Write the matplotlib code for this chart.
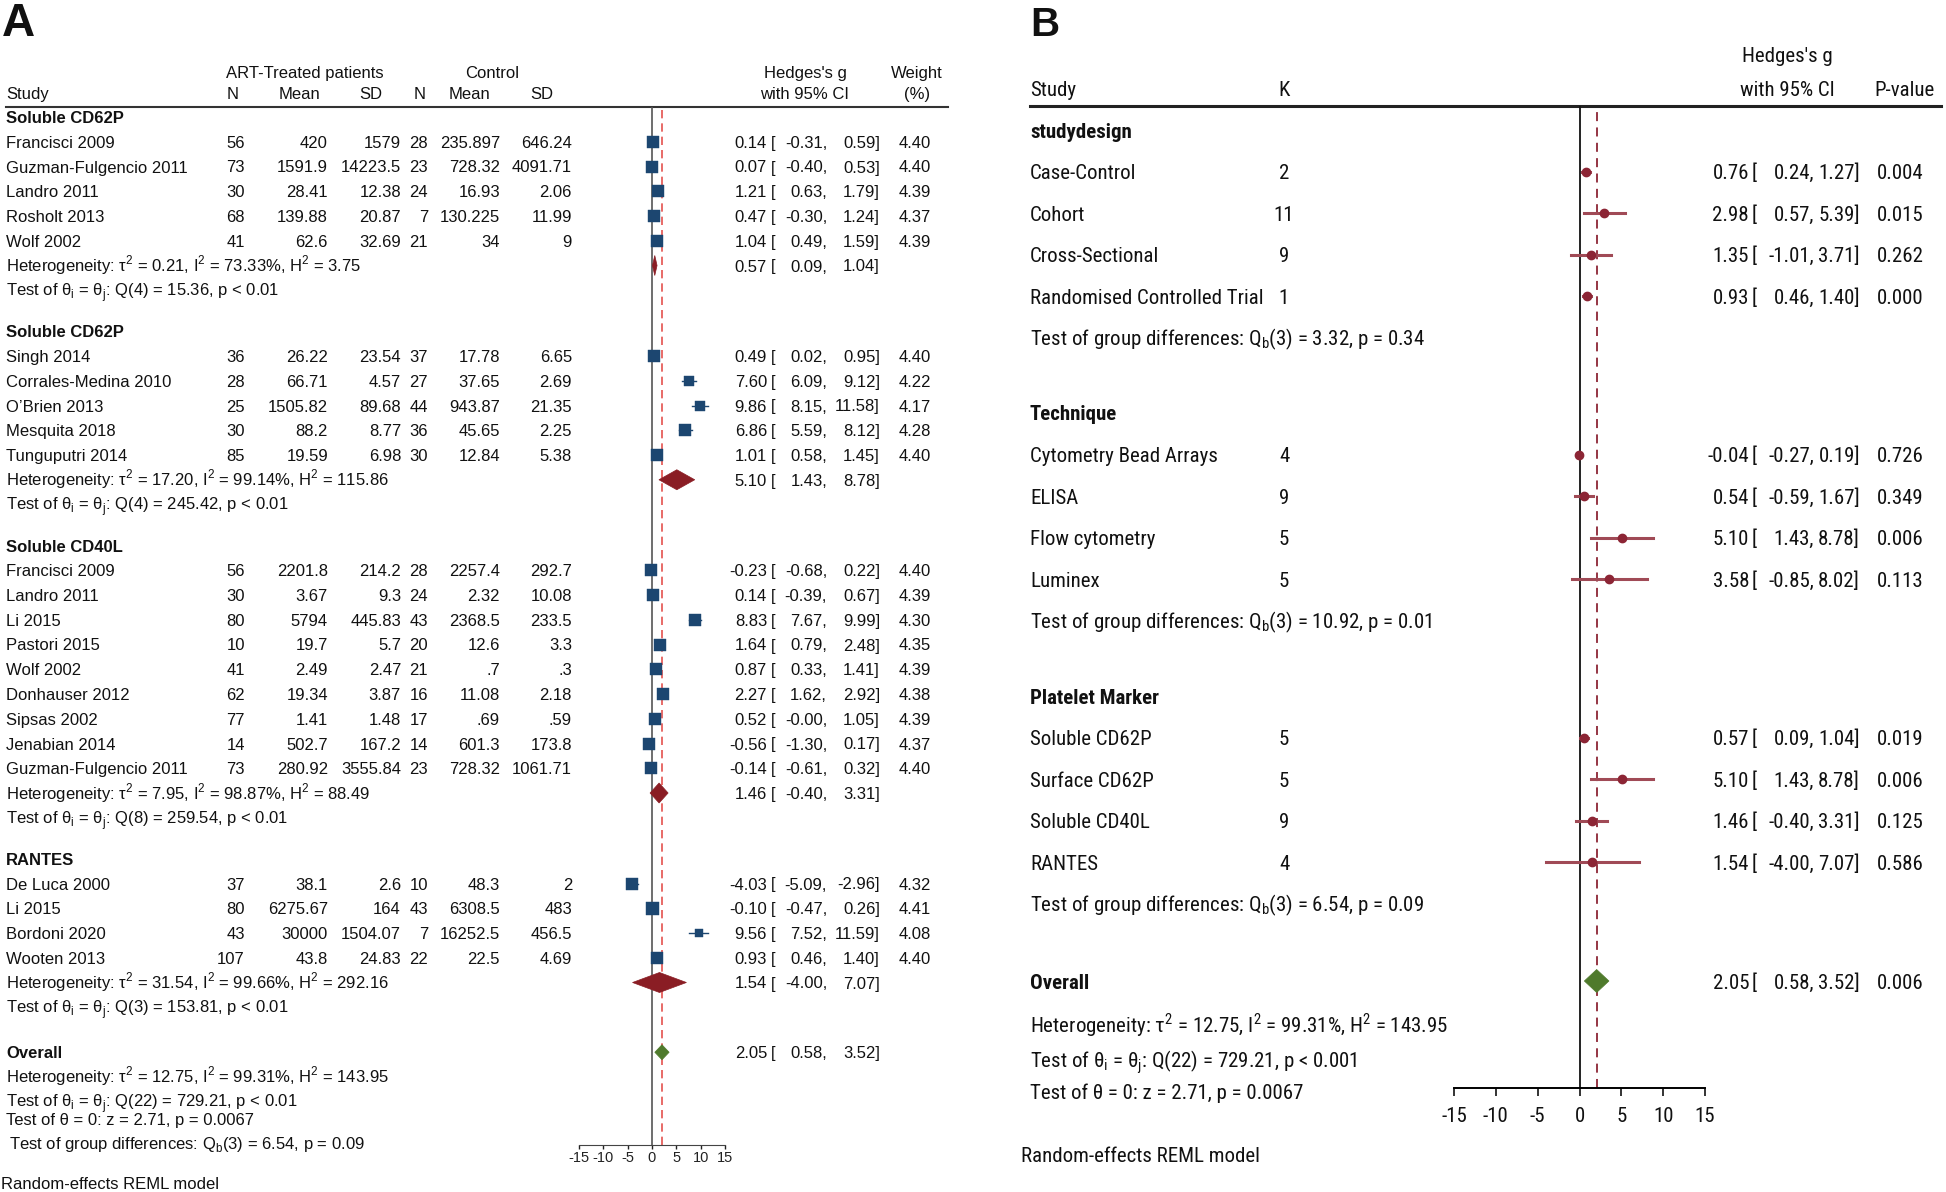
import matplotlib.pyplot as plt
from matplotlib.patches import Polygon

W, H = 1946, 1192
plt.rcParams['font.family'] = ['Liberation Sans', 'DejaVu Sans']
plt.rcParams['axes.unicode_minus'] = False
# panel B uses a narrow face
NB = ['Roboto Condensed', 'Liberation Sans Narrow', 'Liberation Sans']

# ---------------- panel A data ----------------
a_groups = ["Soluble CD62P", "Soluble CD62P", "Soluble CD40L", "RANTES"]
a_group_n = [5, 5, 9, 4]
a_study = ["Francisci 2009", "Guzman-Fulgencio 2011", "Landro 2011", "Rosholt 2013", "Wolf 2002",
           "Singh 2014", "Corrales-Medina 2010", "O\u2019Brien 2013", "Mesquita 2018", "Tunguputri 2014",
           "Francisci 2009", "Landro 2011", "Li 2015", "Pastori 2015", "Wolf 2002", "Donhauser 2012",
           "Sipsas 2002", "Jenabian 2014", "Guzman-Fulgencio 2011",
           "De Luca 2000", "Li 2015", "Bordoni 2020", "Wooten 2013"]
a_n1 = ["56", "73", "30", "68", "41", "36", "28", "25", "30", "85",
        "56", "30", "80", "10", "41", "62", "77", "14", "73", "37", "80", "43", "107"]
a_m1 = ["420", "1591.9", "28.41", "139.88", "62.6", "26.22", "66.71", "1505.82", "88.2", "19.59",
        "2201.8", "3.67", "5794", "19.7", "2.49", "19.34", "1.41", "502.7", "280.92",
        "38.1", "6275.67", "30000", "43.8"]
a_s1 = ["1579", "14223.5", "12.38", "20.87", "32.69", "23.54", "4.57", "89.68", "8.77", "6.98",
        "214.2", "9.3", "445.83", "5.7", "2.47", "3.87", "1.48", "167.2", "3555.84",
        "2.6", "164", "1504.07", "24.83"]
a_n2 = ["28", "23", "24", "7", "21", "37", "27", "44", "36", "30",
        "28", "24", "43", "20", "21", "16", "17", "14", "23", "10", "43", "7", "22"]
a_m2 = ["235.897", "728.32", "16.93", "130.225", "34", "17.78", "37.65", "943.87", "45.65", "12.84",
        "2257.4", "2.32", "2368.5", "12.6", ".7", "11.08", ".69", "601.3", "728.32",
        "48.3", "6308.5", "16252.5", "22.5"]
a_s2 = ["646.24", "4091.71", "2.06", "11.99", "9", "6.65", "2.69", "21.35", "2.25", "5.38",
        "292.7", "10.08", "233.5", "3.3", ".3", "2.18", ".59", "173.8", "1061.71",
        "2", "483", "456.5", "4.69"]
a_g = [0.14, 0.07, 1.21, 0.47, 1.04, 0.49, 7.60, 9.86, 6.86, 1.01,
       -0.23, 0.14, 8.83, 1.64, 0.87, 2.27, 0.52, -0.56, -0.14, -4.03, -0.10, 9.56, 0.93]
a_lo = [-0.31, -0.40, 0.63, -0.30, 0.49, 0.02, 6.09, 8.15, 5.59, 0.58,
        -0.68, -0.39, 7.67, 0.79, 0.33, 1.62, -0.00, -1.30, -0.61, -5.09, -0.47, 7.52, 0.46]
a_hi = [0.59, 0.53, 1.79, 1.24, 1.59, 0.95, 9.12, 11.58, 8.12, 1.45,
        0.22, 0.67, 9.99, 2.48, 1.41, 2.92, 1.05, 0.17, 0.32, -2.96, 0.26, 11.59, 1.40]
a_wt = [4.40, 4.40, 4.39, 4.37, 4.39, 4.40, 4.22, 4.17, 4.28, 4.40,
        4.40, 4.39, 4.30, 4.35, 4.39, 4.38, 4.39, 4.37, 4.40, 4.32, 4.41, 4.08, 4.40]

# subgroup pooled estimates and statistics
a_pg = [0.57, 5.10, 1.46, 1.54]
a_plo = [0.09, 1.43, -0.40, -4.00]
a_phi = [1.04, 8.78, 3.31, 7.07]
a_tau2 = ["0.21", "17.20", "7.95", "31.54"]
a_i2 = ["73.33", "99.14", "98.87", "99.66"]
a_h2 = ["3.75", "115.86", "88.49", "292.16"]
a_qdf = ["4", "4", "8", "3"]
a_q = ["15.36", "245.42", "259.54", "153.81"]

overall = [2.05, 0.58, 3.52]
ov_tau2, ov_i2, ov_h2 = "12.75", "99.31", "143.95"
ov_q, ov_qdf = "729.21", "22"
ov_z, ov_zp = "2.71", "0.0067"
a_qb, a_qbp = "6.54", "0.09"
ov_p = "0.006"

# ---------------- panel B data ----------------
b_groups = ["studydesign", "Technique", "Platelet Marker"]
b_group_n = [4, 4, 4]
b_labels = ["Case-Control", "Cohort", "Cross-Sectional", "Randomised Controlled Trial",
            "Cytometry Bead Arrays", "ELISA", "Flow cytometry", "Luminex",
            "Soluble CD62P", "Surface CD62P", "Soluble CD40L", "RANTES"]
b_k = [2, 11, 9, 1, 4, 9, 5, 5, 5, 5, 9, 4]
b_g = [0.76, 2.98, 1.35, 0.93, -0.04, 0.54, 5.10, 3.58, 0.57, 5.10, 1.46, 1.54]
b_lo = [0.24, 0.57, -1.01, 0.46, -0.27, -0.59, 1.43, -0.85, 0.09, 1.43, -0.40, -4.00]
b_hi = [1.27, 5.39, 3.71, 1.40, 0.19, 1.67, 8.78, 8.02, 1.04, 8.78, 3.31, 7.07]
b_p = ["0.004", "0.015", "0.262", "0.000", "0.726", "0.349", "0.006", "0.113",
       "0.019", "0.006", "0.125", "0.586"]
b_qb = ["3.32", "10.92", "6.54"]
b_qbp = ["0.34", "0.01", "0.09"]

ticks = [-15, -10, -5, 0, 5, 10, 15]
tick_labels = ["-15", "-10", "-5", "0", "5", "10", "15"]

NAVY = '#1c4670'
MAROON = '#8a1d24'
GREEN = '#4f7a2c'
BDOT = '#8c2535'
BLINE = '#a04a56'

# ---------------- figure ----------------
fig = plt.figure(figsize=(W / 100, H / 100), dpi=100)
bg = fig.add_axes([0, 0, 1, 1])
bg.set_xlim(0, W)
bg.set_ylim(H, 0)
bg.axis('off')


def px_axes(x0, x1, y0, y1):
    return fig.add_axes([x0 / W, 1 - y1 / H, (x1 - x0) / W, (y1 - y0) / H])


def put(x, y, s, size, ha='left', weight='normal', fam=None):
    kw = {} if fam is None else {'family': fam}
    bg.text(x, y + 0.36 * size * 100 / 72, s, fontsize=size, ha=ha, va='baseline',
            fontweight=weight, color='#111', **kw)


def het_text(t, i, h):
    return ("Heterogeneity: \u03c4$^\\mathregular{2}$ = " + t + ", I$^\\mathregular{2}$ = " + i
            + "%, H$^\\mathregular{2}$ = " + h)


def qtest_text(df, q, p):
    return ("Test of \u03b8$_\\mathregular{i}$ = \u03b8$_\\mathregular{j}$: Q(" + df + ") = " + q
            + ", p < " + p)


def ci_pieces(x_g, x_br, x_lo, x_hi, y, g, lo, hi, size, fam=None):
    put(x_g, y, f"{g:.2f}", size, ha='right', fam=fam)
    put(x_br, y, "[", size, fam=fam)
    put(x_lo, y, f"{lo:.2f},", size, ha='right', fam=fam)
    put(x_hi, y, f"{hi:.2f}]", size, ha='right', fam=fam)


def diamond(ax, g, lo, hi, y, h, color):
    ax.add_patch(Polygon([(lo, y), (g, y - h / 2), (hi, y), (g, y + h / 2)], closed=True,
                         facecolor=color, edgecolor=color, lw=0.5, clip_on=False, zorder=5))


# ====== panel A ======
FA = 12
put(2, 20, "A", 33, weight='bold')
put(305, 72, "ART-Treated patients", FA, ha='center')
put(492, 72, "Control", FA, ha='center')
put(805, 72, "Hedges's g", FA, ha='center')
put(917, 72, "Weight", FA, ha='center')
put(6, 93, "Study", FA)
for x, s in zip([233, 299, 371, 420, 470, 542], ["N", "Mean", "SD", "N", "Mean", "SD"]):
    put(x, 93, s, FA, ha='center')
put(805, 93, "with 95% CI", FA, ha='center')
put(917, 93, "(%)", FA, ha='center')
bg.plot([6, 948], [107, 107], color='#333', lw=1.5)

axA = px_axes(579, 725, 107, 1145)
axA.set_xlim(-15, 15)
axA.set_ylim(1145, 107)
axA.patch.set_alpha(0)
for s in ['top', 'left', 'right']:
    axA.spines[s].set_visible(False)
axA.spines['bottom'].set_color('#444')
axA.set_yticks([])
axA.set_xticks(ticks)
axA.set_xticklabels(tick_labels)
axA.tick_params(axis='x', direction='out', length=3, width=1, pad=1.5, labelsize=10.5, colors='#222')
axA.axvline(0, color='#555', lw=1.2, zorder=1)
axA.axvline(overall[0], color='#e4524e', lw=1.2, ls=(0, (5, 3)), zorder=1)

row = 24.75
y = 117.0
k = 0
for gi, n in enumerate(a_group_n):
    put(6, y, a_groups[gi], FA, weight='bold')
    for j in range(n):
        y += row
        put(6, y, a_study[k], FA)
        for x, col in zip([245, 328, 401, 428, 500, 572], [a_n1, a_m1, a_s1, a_n2, a_m2, a_s2]):
            put(x, y, col[k], FA, ha='right')
        ci_pieces(767, 771, 827, 880, y, a_g[k], a_lo[k], a_hi[k], FA)
        put(931, y, f"{a_wt[k]:.2f}", FA, ha='right')
        axA.plot([a_lo[k], a_hi[k]], [y, y], color=NAVY, lw=1, clip_on=False, zorder=3)
        side = 13 * (a_wt[k] / 4.41) ** 5 * 0.72
        axA.plot(a_g[k], y, marker='s', ms=side, color=NAVY, mec=NAVY, mew=0.3,
                 clip_on=False, zorder=4)
        k += 1
    y += row
    put(6, y, het_text(a_tau2[gi], a_i2[gi], a_h2[gi]), FA)
    ci_pieces(767, 771, 827, 880, y, a_pg[gi], a_plo[gi], a_phi[gi], FA)
    diamond(axA, a_pg[gi], a_plo[gi], a_phi[gi], y, 20, MAROON)
    y += row
    put(6, y, qtest_text(a_qdf[gi], a_q[gi], "0.01"), FA)
    y += 41

y += 4
put(6, y, "Overall", FA, weight='bold')
ci_pieces(767, 771, 827, 880, y, *overall, FA)
diamond(axA, overall[0], overall[1], overall[2], y, 15, GREEN)
y += 24.5
put(6, y, het_text(ov_tau2, ov_i2, ov_h2), FA)
y += 24.7
put(6, y, qtest_text(ov_qdf, ov_q, "0.01"), FA)
y += 17.3
put(6, y, "Test of \u03b8 = 0: z = " + ov_z + ", p = " + ov_zp, FA)
y += 24
put(9, y, "Test of group differences: Q$_\\mathregular{b}$(3) = " + a_qb + ", p = " + a_qbp, FA)
put(1, 1183, "Random-effects REML model", FA)

# ====== panel B ======
FB = 15
put(1030, 22, "B", 29, weight='bold')
put(1787, 55, "Hedges's g", FB, ha='center', fam=NB)
put(1030, 88, "Study", FB, fam=NB)
put(1284, 88, "K", FB, ha='center', fam=NB)
put(1787, 88, "with 95% CI", FB, ha='center', fam=NB)
put(1905, 88, "P-value", FB, ha='center', fam=NB)
bg.plot([1030, 1941], [106, 106], color='#222', lw=2.2)

axB = px_axes(1454, 1705, 106, 1088)
axB.set_xlim(-15, 15)
axB.set_ylim(1088, 106)
axB.patch.set_alpha(0)
for s in ['top', 'left', 'right']:
    axB.spines[s].set_visible(False)
axB.spines['bottom'].set_linewidth(1.4)
axB.set_yticks([])
axB.set_xticks(ticks)
axB.set_xticklabels(tick_labels, family=NB)
axB.tick_params(axis='x', direction='out', length=6, width=1.2, pad=8, labelsize=FB, colors='#111')
axB.axvline(0, color='#111', lw=1.3, zorder=1)
axB.axvline(overall[0], color=BDOT, lw=1.3, ls=(0, (5, 3.5)), zorder=1)

rowb = 41.6
y = 130.0
k = 0
for gi, n in enumerate(b_group_n):
    put(1030, y, b_groups[gi], FB, weight='bold', fam=NB)
    for j in range(n):
        y += rowb
        put(1030, y, b_labels[k], FB, fam=NB)
        put(1284, y, str(b_k[k]), FB, ha='center', fam=NB)
        ci_pieces(1749, 1752, 1814, 1860, y, b_g[k], b_lo[k], b_hi[k], FB, fam=NB)
        put(1924, y, b_p[k], FB, ha='right', fam=NB)
        axB.plot([b_lo[k], b_hi[k]], [y, y], color=BLINE, lw=2.2, clip_on=False, zorder=3)
        axB.plot(b_g[k], y, marker='o', ms=6, color=BDOT, mec=BDOT, clip_on=False, zorder=4)
        k += 1
    y += rowb
    put(1030, y, "Test of group differences: Q$_\\mathregular{b}$(3) = " + b_qb[gi] + ", p = " + b_qbp[gi],
        FB, fam=NB)
    y += 75

y += 2
put(1030, y, "Overall", FB, weight='bold', fam=NB)
ci_pieces(1749, 1752, 1814, 1860, y, *overall, FB, fam=NB)
put(1924, y, ov_p, FB, ha='right', fam=NB)
diamond(axB, overall[0], overall[1], overall[2], y, 23, GREEN)
y += 44
put(1030, y, het_text(ov_tau2, ov_i2, ov_h2), FB, fam=NB)
y += 35
put(1030, y, qtest_text(ov_qdf, ov_q, "0.001"), FB, fam=NB)
y += 31
put(1030, y, "Test of \u03b8 = 0: z = " + ov_z + ", p = " + ov_zp, FB, fam=NB)
put(1021, 1155, "Random-effects REML model", FB, fam=NB)

fig.savefig("out.png", dpi=100, facecolor='white')
